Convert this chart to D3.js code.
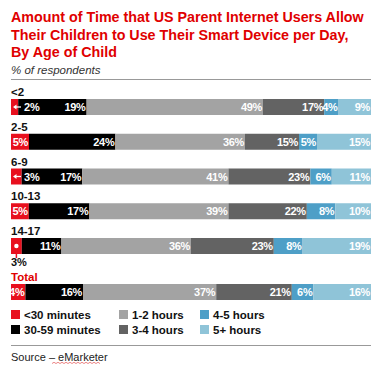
<!DOCTYPE html>
<html><head><meta charset="utf-8">
<script src="https://cdn.jsdelivr.net/npm/d3@7"></script>
<style>body{margin:0;background:#fff}svg{display:block}text{font-family:"Liberation Sans",Arial,sans-serif}</style>
</head><body><svg id="c" width="385" height="370"></svg>
<script>
const categories = ["<2","2-5","6-9","10-13","14-17","Total"];
const seriesNames = ["<30 minutes","30-59 minutes","1-2 hours","3-4 hours","4-5 hours","5+ hours"];
const lt30 =   [2,5,3,5,3,4];
const m30_59 = [19,24,17,17,11,16];
const h1_2 =   [49,36,41,39,36,37];
const h3_4 =   [17,15,23,22,23,21];
const h4_5 =   [4,5,6,8,8,6];
const h5p =    [9,15,11,10,19,16];
const colors = ["#e8101e","#000000","#a3a3a3","#636363","#4e9fc7","#8fc4d8"];

const svg = d3.select("#c");
const red = "#e00000";
const L = 11, R = 371;

// title
const title = ["Amount of Time that US Parent Internet Users Allow","Their Children to Use Their Smart Device per Day,","By Age of Child"];
title.forEach((t,i)=>svg.append("text").attr("x",L).attr("y",22+i*17.5).attr("fill",red)
  .attr("font-size",14.3).attr("font-weight","bold").text(t));
svg.append("text").attr("x",L).attr("y",74).attr("font-size",11.5).attr("font-style","italic").attr("fill","#333").text("% of respondents");
svg.append("line").attr("x1",L).attr("x2",R).attr("y1",79.5).attr("y2",79.5).attr("stroke","#999").attr("stroke-width",1.2);

const rows = categories.map((c,i)=>({cat:c, s0:lt30[i], s1:m30_59[i], s2:h1_2[i], s3:h3_4[i], s4:h4_5[i], s5:h5p[i]}));
const keys = ["s0","s1","s2","s3","s4","s5"];
const stack = d3.stack().keys(keys).offset(d3.stackOffsetExpand)(rows);

const x = d3.scaleLinear().domain([0,1]).range([L,R]);
const yIdx = d3.scaleLinear().domain([0,4]).range([99,238]);
const y = (i)=> i<5 ? yIdx(i) : yIdx(4)+46;
const bh = 16;

// category labels
categories.forEach((c,i)=>svg.append("text").attr("x",L).attr("y",y(i)-3).attr("font-size",11.5)
  .attr("font-weight","bold").attr("fill", c==="Total"?red:"#111").text(c));

stack.forEach((layer,k)=>{
  const g = svg.append("g");
  g.selectAll("rect").data(layer).join("rect")
    .attr("x",d=>x(d[0])).attr("y",(d,i)=>y(i)).attr("width",d=>x(d[1])-x(d[0])).attr("height",bh)
    .attr("fill",colors[k]);
});

// labels
stack.forEach((layer,k)=>{
  layer.forEach((d,i)=>{
    const v = d.data[keys[k]];
    const yy = y(i)+bh/2+4;
    if(k===0 && v<4){
      if(i===4){
        const cx = (x(d[0])+x(d[1]))/2;
        svg.append("line").attr("x1",cx).attr("x2",cx).attr("y1",y(i)+bh/2).attr("y2",y(i)+bh+4).attr("stroke",colors[0]).attr("stroke-width",1.5);
        svg.append("circle").attr("cx",cx).attr("cy",y(i)+bh/2).attr("r",2.2).attr("fill","#fff");
        svg.append("text").attr("x",L).attr("y",y(i)+bh+12).attr("font-size",11).attr("font-weight","bold").attr("fill","#111").text(v+"%");
      } else {
        const ax = x(d[0])+2;
        svg.append("line").attr("x1",ax+2).attr("x2",ax+8).attr("y1",y(i)+bh/2).attr("y2",y(i)+bh/2).attr("stroke","#fff").attr("stroke-width",1.3);
        svg.append("path").attr("d",`M${ax},${y(i)+bh/2}l3.5,-2.5v5z`).attr("fill","#fff");
        svg.append("text").attr("x",ax+11).attr("y",yy).attr("font-size",11).attr("font-weight","bold").attr("fill","#fff").text(v+"%");
      }
    } else {
      svg.append("text").attr("x",x(d[1])-1).attr("y",yy).attr("text-anchor","end").attr("font-size",11)
        .attr("font-weight","bold").attr("fill","#fff").attr("letter-spacing",-0.3).text(v+"%");
    }
  });
});

// legend
const legX = [11,119,200];
seriesNames.forEach((n,i)=>{
  const col = Math.floor(i/2), row = i%2;
  const lx = legX[col], ly = 315 + row*15;
  svg.append("rect").attr("x",lx).attr("y",ly-5).attr("width",9).attr("height",9).attr("fill",colors[i]);
  svg.append("text").attr("x",lx+13).attr("y",ly+4).attr("font-size",11.5).attr("font-weight","bold").attr("fill","#111").text(n);
});
svg.append("line").attr("x1",L).attr("x2",R).attr("y1",345.5).attr("y2",345.5).attr("stroke","#999").attr("stroke-width",1.2);
const src = svg.append("text").attr("x",L).attr("y",361).attr("font-size",11).attr("fill","#222");
src.append("tspan").text("Source – ");
src.append("tspan").text("eMarketer");
svg.append("path").attr("d","M52,363.5"+d3.range(0,24).map(j=>`l2,${j%2?1.2:-1.2}`).join("")).attr("fill","none").attr("stroke","#d33").attr("stroke-width",0.6);
</script></body></html>
